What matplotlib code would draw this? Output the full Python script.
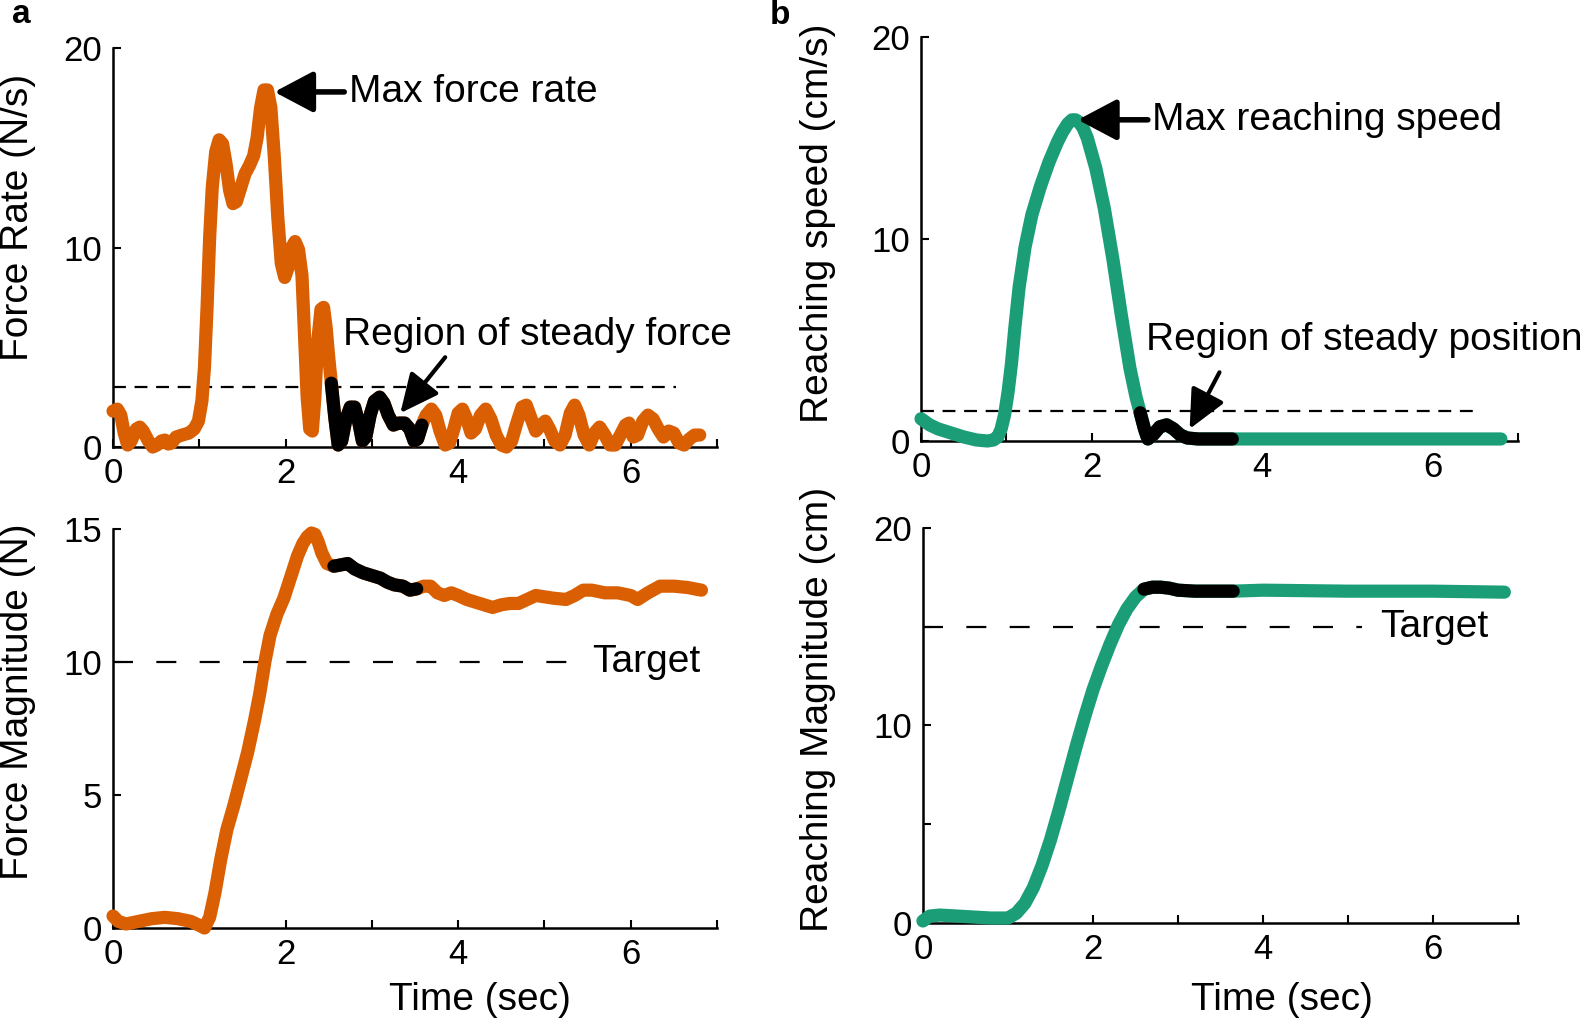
import matplotlib
matplotlib.use("Agg")
import matplotlib.pyplot as plt

plt.rcParams["font.family"] = ["Liberation Sans", "DejaVu Sans"]

ORANGE = "#d95f02"
GREEN = "#1b9e77"

# panel a, top: force rate (N/s)
rate_t = [0.00, 0.05, 0.09, 0.13, 0.17, 0.21, 0.27, 0.31, 0.35, 0.41, 0.46, 0.51,
          0.56, 0.60, 0.64, 0.68, 0.73, 0.80, 0.88, 0.94, 0.99, 1.03, 1.06, 1.09,
          1.12, 1.15, 1.19, 1.23, 1.27, 1.31, 1.35, 1.39, 1.43, 1.48, 1.53, 1.58,
          1.63, 1.67, 1.71, 1.75, 1.79, 1.83, 1.87, 1.91, 1.95, 1.99, 2.03, 2.07,
          2.11, 2.15, 2.19, 2.22, 2.25, 2.28, 2.31, 2.34, 2.37, 2.41, 2.44, 2.47,
          2.50, 2.53, 2.57, 2.61, 2.65, 2.70, 2.75, 2.80, 2.85, 2.89, 2.93, 2.98,
          3.03, 3.09, 3.14, 3.19, 3.25, 3.31, 3.38, 3.44, 3.49, 3.53, 3.58, 3.63,
          3.69, 3.74, 3.79, 3.85, 3.90, 3.95, 4.00, 4.05, 4.10, 4.15, 4.20, 4.26,
          4.32, 4.38, 4.44, 4.50, 4.56, 4.62, 4.68, 4.74, 4.79, 4.84, 4.90, 4.96,
          5.01, 5.06, 5.12, 5.18, 5.24, 5.30, 5.35, 5.40, 5.46, 5.52, 5.58, 5.64,
          5.70, 5.76, 5.82, 5.88, 5.94, 5.98, 6.03, 6.08, 6.14, 6.20, 6.26, 6.32,
          6.38, 6.44, 6.50, 6.56, 6.62, 6.68, 6.74, 6.80]
rate_v = [1.8, 1.9, 1.6, 0.7, 0.1, 0.3, 0.9, 1.0, 0.8, 0.3, 0.0, 0.1,
          0.3, 0.35, 0.15, 0.2, 0.5, 0.6, 0.7, 0.9, 1.3, 2.3, 4.0, 7.0,
          10.5, 13.0, 14.8, 15.4, 15.2, 14.2, 12.9, 12.2, 12.3, 13.0, 13.7, 14.1,
          14.6, 15.5, 17.0, 17.9, 17.9, 17.0, 14.5, 11.5, 9.2, 8.5, 9.0, 10.0,
          10.3, 9.9, 8.6, 5.5, 2.5, 0.9, 0.8, 2.5, 5.2, 6.9, 7.0, 6.0,
          4.5, 3.2, 1.5, 0.1, 0.3, 1.4, 2.0, 2.0, 1.2, 0.3, 0.5, 1.6,
          2.3, 2.5, 2.2, 1.6, 1.1, 1.2, 1.2, 0.9, 0.3, 0.4, 1.1, 1.6,
          1.9, 1.6, 0.8, 0.1, 0.2, 0.9, 1.7, 1.9, 1.4, 0.7, 0.9, 1.6,
          1.9, 1.4, 0.6, 0.1, 0.0, 0.3, 1.2, 2.0, 2.1, 1.5, 0.8, 1.1,
          1.3, 0.9, 0.3, 0.1, 0.6, 1.7, 2.1, 1.6, 0.6, 0.1, 0.7, 1.0,
          0.6, 0.1, 0.1, 0.6, 1.1, 1.2, 0.5, 0.6, 1.3, 1.6, 1.4, 0.9,
          0.5, 0.8, 0.7, 0.2, 0.1, 0.4, 0.6, 0.6]

# panel a, bottom: force magnitude (N)
force_t = [0.00, 0.06, 0.15, 0.30, 0.45, 0.60, 0.75, 0.90, 1.00, 1.06, 1.12, 1.18,
           1.25, 1.32, 1.40, 1.48, 1.56, 1.64, 1.70, 1.76, 1.82, 1.90, 1.98, 2.06,
           2.14, 2.20, 2.25, 2.30, 2.34, 2.38, 2.42, 2.48, 2.56, 2.64, 2.72, 2.80,
           2.90, 3.00, 3.10, 3.18, 3.26, 3.36, 3.44, 3.52, 3.60, 3.68, 3.76, 3.84,
           3.92, 4.00, 4.10, 4.20, 4.30, 4.40, 4.50, 4.60, 4.70, 4.80, 4.90, 5.00,
           5.10, 5.25, 5.35, 5.45, 5.55, 5.70, 5.85, 6.00, 6.08, 6.20, 6.34, 6.50,
           6.66, 6.82]
force_v = [0.45, 0.25, 0.15, 0.25, 0.35, 0.40, 0.35, 0.25, 0.10, 0.00, 0.40, 1.30,
           2.60, 3.70, 4.60, 5.60, 6.60, 7.80, 8.80, 10.0, 11.0, 11.8, 12.4, 13.2,
           14.0, 14.45, 14.7, 14.85, 14.8, 14.5, 14.1, 13.7, 13.6, 13.65, 13.7, 13.5,
           13.35, 13.25, 13.15, 13.0, 12.9, 12.85, 12.7, 12.75, 12.85, 12.85, 12.6, 12.5,
           12.6, 12.5, 12.35, 12.25, 12.15, 12.05, 12.15, 12.2, 12.2, 12.35, 12.5, 12.45,
           12.4, 12.35, 12.5, 12.7, 12.7, 12.6, 12.6, 12.5, 12.35, 12.6, 12.85, 12.85,
           12.8, 12.7]

# panel b, top: reaching speed (cm/s)
speed_t = [0.00, 0.10, 0.20, 0.35, 0.50, 0.65, 0.78, 0.85, 0.90, 0.94, 0.98, 1.02,
           1.06, 1.10, 1.15, 1.22, 1.30, 1.40, 1.50, 1.60, 1.66, 1.72, 1.77, 1.81,
           1.85, 1.90, 1.95, 2.05, 2.15, 2.25, 2.35, 2.45, 2.52, 2.57, 2.62, 2.66,
           2.72, 2.80, 2.88, 2.96, 3.04, 3.12, 3.25, 3.40, 3.65, 4.00, 5.00, 6.00,
           6.80]
speed_v = [1.1, 0.8, 0.6, 0.4, 0.2, 0.05, 0.0, 0.05, 0.2, 0.6, 1.3, 2.4,
           3.8, 5.6, 7.6, 9.6, 11.2, 12.6, 13.8, 14.8, 15.3, 15.7, 15.9, 15.9,
           15.8, 15.5, 15.0, 13.5, 11.5, 9.0, 6.2, 3.6, 2.2, 1.4, 0.6, 0.1,
           0.3, 0.7, 0.8, 0.6, 0.3, 0.15, 0.1, 0.1, 0.1, 0.1, 0.1, 0.1,
           0.1]

# panel b, bottom: reaching magnitude (cm)
reach_t = [0.00, 0.08, 0.20, 0.40, 0.60, 0.80, 1.00, 1.10, 1.20, 1.30, 1.40, 1.50,
           1.60, 1.70, 1.80, 1.90, 2.00, 2.10, 2.20, 2.30, 2.40, 2.50, 2.60, 2.70,
           2.80, 2.90, 3.00, 3.20, 3.40, 3.65, 4.00, 5.00, 6.00, 6.84]
reach_v = [0.1, 0.35, 0.4, 0.35, 0.3, 0.25, 0.25, 0.5, 1.0, 1.8, 2.9, 4.2,
           5.7, 7.3, 8.9, 10.4, 11.8, 13.0, 14.1, 15.1, 15.9, 16.5, 16.9, 17.0,
           17.0, 16.95, 16.85, 16.8, 16.8, 16.8, 16.85, 16.8, 16.8, 16.75]

STEADY_A = (2.53, 3.58)
STEADY_B = (2.57, 3.65)
RATE_THRESH, RATE_THRESH_END = 3.0, 6.53
SPEED_THRESH, SPEED_THRESH_END = 1.5, 6.56
FORCE_TARGET, FORCE_TARGET_END = 10, 5.35
REACH_TARGET, REACH_TARGET_END = 15, 5.16

XTICKS = [0, 1, 2, 3, 4, 5, 6, 7]
XTICKLABELS = ["0", "", "2", "", "4", "", "6", ""]

LW = 9.5
TICK_FS = 25
LABEL_FS = 28
NOTE_FS = 28


def trace(ax, t, v, color, window):
    ax.plot(t, v, color=color, lw=LW, solid_capstyle="round",
            solid_joinstyle="round", clip_on=False, zorder=3)
    tt = [a for a in t if window[0] <= a <= window[1]]
    vv = [b for a, b in zip(t, v) if window[0] <= a <= window[1]]
    ax.plot(tt, vv, color="black", lw=LW, solid_capstyle="round",
            solid_joinstyle="round", clip_on=False, zorder=4)


def style(ax, ylim, yticks, yticklabels):
    ax.set_xlim(0, 7)
    ax.set_ylim(*ylim)
    ax.set_xticks(XTICKS)
    ax.set_xticklabels(XTICKLABELS)
    ax.set_yticks(yticks)
    ax.set_yticklabels(yticklabels)
    for s in ("top", "right"):
        ax.spines[s].set_visible(False)
    for s in ("left", "bottom"):
        ax.spines[s].set_linewidth(1.8)
    ax.tick_params(direction="in", length=6, width=1.5, labelsize=TICK_FS)
    ax.tick_params(axis="x", pad=7)
    ax.tick_params(axis="y", pad=8)


def arrow(ax, head, tail, lw, hl, hw):
    ax.annotate("", xy=head, xytext=tail,
                arrowprops=dict(arrowstyle=f"-|>,head_length={hl},head_width={hw}",
                                lw=lw, color="black", shrinkA=0, shrinkB=0,
                                mutation_scale=28),
                zorder=6)


fig = plt.figure(figsize=(15.94, 10.22), dpi=100)
ax_tl = fig.add_axes([0.0709, 0.5626, 0.3789, 0.3904])
ax_tr = fig.add_axes([0.5778, 0.5685, 0.3745, 0.3953])
ax_bl = fig.add_axes([0.0709, 0.0920, 0.3789, 0.3904])
ax_br = fig.add_axes([0.5790, 0.0969, 0.3733, 0.3865])

# --- a, force rate
ax = ax_tl
ax.hlines(RATE_THRESH, 0, RATE_THRESH_END, colors="black", lw=1.6,
          linestyles=(0, (5.8, 3.9)), zorder=1)
trace(ax, rate_t, rate_v, ORANGE, STEADY_A)
style(ax, (0, 20), [0, 10, 20], ["0", "10", "20"])
ax.set_ylabel("Force Rate (N/s)", fontsize=LABEL_FS, va="center")
ax.yaxis.set_label_coords(-0.157, 0.576)
ax.text(2.73, 17.8, "Max force rate", fontsize=NOTE_FS, va="center")
arrow(ax, (1.87, 17.8), (2.68, 17.8), 4, 0.85, 0.45)
ax.text(2.67, 5.6, "Region of steady force", fontsize=NOTE_FS, va="center")
arrow(ax, (3.33, 1.7), (3.85, 4.5), 3, 0.85, 0.4)

# --- a, force magnitude
ax = ax_bl
ax.hlines(FORCE_TARGET, 0, FORCE_TARGET_END, colors="black", lw=1.6,
          linestyles=(0, (9, 10.5)), zorder=1)
trace(ax, force_t, force_v, ORANGE, STEADY_A)
style(ax, (0, 15), [0, 5, 10, 15], ["0", "5", "10", "15"])
ax.set_ylabel("Force Magnitude (N)", fontsize=LABEL_FS, va="center")
ax.yaxis.set_label_coords(-0.157, 0.566)
ax.set_xlabel("Time (sec)", fontsize=LABEL_FS, va="center")
ax.xaxis.set_label_coords(0.608, -0.18)
ax.text(5.55, FORCE_TARGET, "Target", fontsize=NOTE_FS, va="center")

# --- b, reaching speed
ax = ax_tr
ax.hlines(SPEED_THRESH, 0, SPEED_THRESH_END, colors="black", lw=1.6,
          linestyles=(0, (5.8, 3.9)), zorder=1)
trace(ax, speed_t, speed_v, GREEN, STEADY_B)
style(ax, (0, 20), [0, 10, 20], ["0", "10", "20"])
ax.set_ylabel("Reaching speed (cm/s)", fontsize=LABEL_FS, va="center")
ax.yaxis.set_label_coords(-0.173, 0.54)
ax.text(2.71, 15.9, "Max reaching speed", fontsize=NOTE_FS, va="center")
arrow(ax, (1.84, 15.9), (2.66, 15.9), 4, 0.85, 0.45)
ax.text(2.64, 5.0, "Region of steady position", fontsize=NOTE_FS, va="center")
arrow(ax, (3.15, 0.6), (3.5, 3.4), 3, 0.85, 0.4)

# --- b, reaching magnitude
ax = ax_br
ax.hlines(REACH_TARGET, 0, REACH_TARGET_END, colors="black", lw=1.6,
          linestyles=(0, (9, 10.5)), zorder=1)
trace(ax, reach_t, reach_v, GREEN, STEADY_B)
style(ax, (0, 20), [0, 5, 10, 15, 20], ["0", "", "10", "", "20"])
ax.set_ylabel("Reaching Magnitude (cm)", fontsize=LABEL_FS, va="center")
ax.yaxis.set_label_coords(-0.176, 0.54)
ax.set_xlabel("Time (sec)", fontsize=LABEL_FS, va="center")
ax.xaxis.set_label_coords(0.603, -0.195)
ax.text(5.38, REACH_TARGET, "Target", fontsize=NOTE_FS, va="center")

fig.text(12 / 1594, 1 - 14 / 1022, "a", fontsize=24, fontweight="bold", va="center")
fig.text(770 / 1594, 1 - 16 / 1022, "b", fontsize=24, fontweight="bold", va="center")

fig.savefig("out.png", dpi=100)
